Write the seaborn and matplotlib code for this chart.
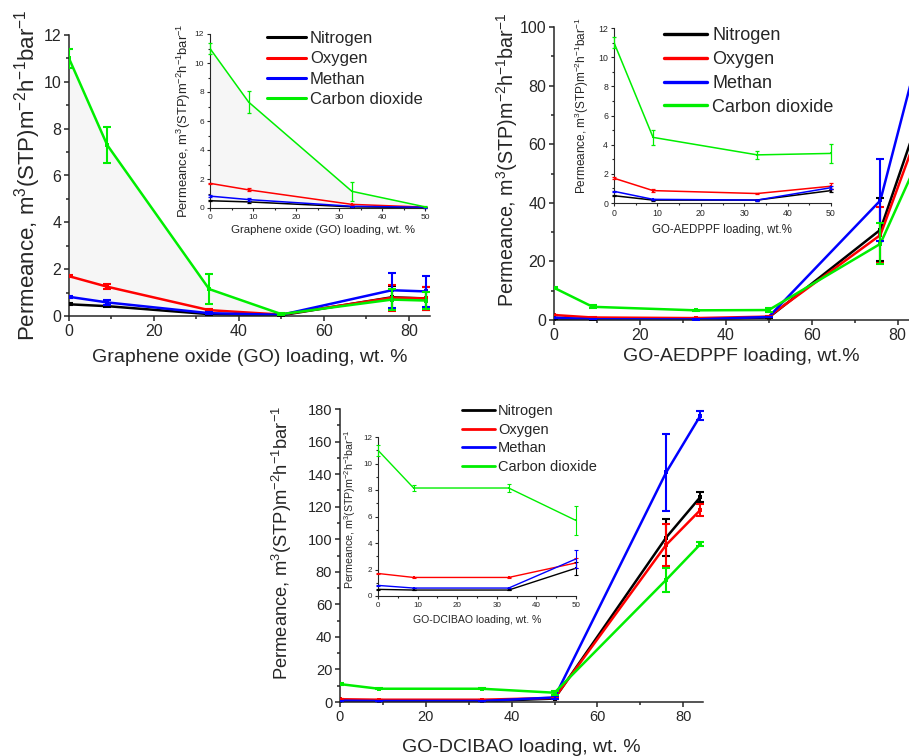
import numpy as np
import pandas as pd
import matplotlib
matplotlib.use("Agg")
import matplotlib.pyplot as plt
from matplotlib.lines import Line2D
from matplotlib.ticker import MultipleLocator
import seaborn as sns

sns.set_style("ticks")
plt.rcParams["font.family"] = ["Liberation Sans", "DejaVu Sans"]
plt.rcParams["mathtext.default"] = "regular"

gases = ["Nitrogen", "Oxygen", "Methan", "Carbon dioxide"]
gas_colors = ["#000000", "#ff0000", "#0000ff", "#00ee00"]
loading = [0, 9, 33, 50, 76, 84]

# Graphene oxide (GO) membranes
go_n2 = [0.50, 0.42, 0.08, 0.03, 0.80, 0.75]
go_o2 = [1.70, 1.25, 0.25, 0.06, 0.78, 0.75]
go_ch4 = [0.82, 0.58, 0.12, 0.05, 1.10, 1.05]
go_co2 = [11.0, 7.30, 1.15, 0.08, 0.70, 0.66]
go_n2_err = [0.05, 0.05, 0.02, 0.01, 0.50, 0.50]
go_o2_err = [0.05, 0.10, 0.05, 0.02, 0.55, 0.50]
go_ch4_err = [0.05, 0.10, 0.03, 0.02, 0.75, 0.65]
go_co2_err = [0.40, 0.75, 0.65, 0.03, 0.45, 0.35]

# GO-AEDPPF membranes
aed_n2 = [0.50, 0.20, 0.20, 0.85, 30.8, 65.0]
aed_o2 = [1.70, 0.85, 0.65, 1.15, 29.0, 61.0]
aed_ch4 = [0.80, 0.25, 0.20, 1.05, 40.8, 86.0]
aed_co2 = [11.0, 4.50, 3.30, 3.40, 26.0, 52.0]
aed_n2_err = [0.05, 0.03, 0.03, 0.10, 10.8, 2.0]
aed_o2_err = [0.05, 0.08, 0.05, 0.20, 9.6, 2.0]
aed_ch4_err = [0.05, 0.05, 0.03, 0.10, 14.0, 3.0]
aed_co2_err = [0.40, 0.50, 0.25, 0.65, 7.0, 2.0]

# GO-DCIBAO membranes
dci_n2 = [0.50, 0.45, 0.45, 2.10, 101.0, 126.0]
dci_o2 = [1.70, 1.40, 1.40, 2.50, 96.5, 118.0]
dci_ch4 = [0.80, 0.60, 0.60, 2.80, 141.0, 176.0]
dci_co2 = [11.0, 8.15, 8.15, 5.70, 75.0, 97.0]
dci_n2_err = [0.05, 0.03, 0.03, 0.50, 11.5, 3.0]
dci_o2_err = [0.05, 0.05, 0.05, 0.40, 13.0, 3.5]
dci_ch4_err = [0.05, 0.03, 0.03, 0.70, 23.5, 2.5]
dci_co2_err = [0.40, 0.25, 0.30, 1.10, 7.5, 1.0]

YLABEL = "Permeance, m$^3$(STP)m$^{-2}$h$^{-1}$bar$^{-1}$"
W, H = 909, 756


def frame(series):
    rows = []
    for gas, vals in zip(gases, series):
        for x, v in zip(loading, vals):
            rows.append({"loading": x, "gas": gas, "permeance": v})
    return pd.DataFrame(rows)


def px_rect(x0, y_top, x1, y_bottom):
    return [x0 / W, 1 - y_bottom / H, (x1 - x0) / W, (y_bottom - y_top) / H]


def draw(fig, rect, series, errors, xlim, ylim, xmaj, ymaj, tick_fs, lw, ms,
         cap, elw, xlabel, xlabel_fs, ylabel_fs, xlab_pos, ylab_pos,
         tick_len, spine_w, upto=None, shade=False):
    ax = fig.add_axes(rect)
    ax.set_facecolor("none")
    df = frame(series)
    if upto is not None:
        df = df[df["loading"] <= upto]
    if shade:
        lo = df[df["gas"] == "Nitrogen"].sort_values("loading")
        hi = df[df["gas"] == "Carbon dioxide"].sort_values("loading")
        sel = (hi["loading"] <= 50).values
        ax.fill_between(hi["loading"].values[sel], lo["permeance"].values[sel],
                        hi["permeance"].values[sel], color="#f6f6f6", lw=0,
                        zorder=0)
    sns.lineplot(data=df, x="loading", y="permeance", hue="gas",
                 hue_order=gases, palette=gas_colors, marker="s",
                 markersize=ms, markeredgewidth=0, linewidth=lw,
                 errorbar=None, legend=False, sort=False, ax=ax)
    for gas, col, vals, err in zip(gases, gas_colors, series, errors):
        xs = np.array(loading)
        v = np.array(vals)
        e = np.array(err)
        if upto is not None:
            m = xs <= upto
            xs, v, e = xs[m], v[m], e[m]
        eb = ax.errorbar(xs, v, yerr=e, fmt="none", ecolor=col, elinewidth=elw,
                         capsize=cap, capthick=elw, zorder=3)
        if upto is not None:
            for art in eb.get_children():
                art.set_clip_on(False)
    ax.set_xlim(*xlim)
    ax.set_ylim(*ylim)
    ax.xaxis.set_major_locator(MultipleLocator(xmaj))
    ax.xaxis.set_minor_locator(MultipleLocator(xmaj / 2))
    ax.yaxis.set_major_locator(MultipleLocator(ymaj))
    ax.yaxis.set_minor_locator(MultipleLocator(ymaj / 2))
    for s in ["top", "right"]:
        ax.spines[s].set_visible(False)
    for s in ["left", "bottom"]:
        ax.spines[s].set_linewidth(spine_w)
    ax.tick_params(which="major", direction="out", length=tick_len,
                   width=spine_w, labelsize=tick_fs, pad=2)
    ax.tick_params(which="minor", direction="out", length=tick_len * 0.6,
                   width=spine_w)
    ax.set_xlabel(xlabel, fontsize=xlabel_fs)
    ax.set_ylabel(YLABEL, fontsize=ylabel_fs)
    ax.xaxis.set_label_coords(*xlab_pos)
    ax.xaxis.label.set_va("center")
    ax.yaxis.set_label_coords(*ylab_pos)
    ax.yaxis.label.set_va("center")
    return ax


def legend(ax, x, y_top, fs, hl, pad, spacing, lw):
    handles = [Line2D([], [], color=c, lw=lw) for c in gas_colors]
    ax.legend(handles, gases, loc="upper left",
              bbox_to_anchor=(x / W, 1 - y_top / H),
              bbox_transform=ax.figure.transFigure, frameon=False,
              fontsize=fs, handlelength=hl, handletextpad=pad,
              labelspacing=spacing, borderpad=0, borderaxespad=0)


fig = plt.figure(figsize=(W / 100, H / 100), dpi=100)

go = [go_n2, go_o2, go_ch4, go_co2]
go_e = [go_n2_err, go_o2_err, go_ch4_err, go_co2_err]
aed = [aed_n2, aed_o2, aed_ch4, aed_co2]
aed_e = [aed_n2_err, aed_o2_err, aed_ch4_err, aed_co2_err]
dci = [dci_n2, dci_o2, dci_ch4, dci_co2]
dci_e = [dci_n2_err, dci_o2_err, dci_ch4_err, dci_co2_err]

# Graphene oxide panel
a1 = draw(fig, px_rect(69, 35, 430, 316), go, go_e, (0, 85), (0, 12), 20, 2,
          11.5, 1.8, 3, 3, 1.5, "Graphene oxide (GO) loading, wt. %", 14, 16,
          (0.50, -0.146), (-0.116, 0.502), 3.6, 1.1, shade=True)
i1 = draw(fig, px_rect(210, 34, 425, 208), go, go_e, (0, 50), (0, 12), 10, 2,
          6.0, 1.1, 2, 1.6, 0.9, "Graphene oxide (GO) loading, wt. %", 8.2, 9.4,
          (0.526, -0.126), (-0.122, 0.50), 2.2, 0.8, upto=50, shade=True)
legend(i1, 267, 31, 12, 2.33, 0.24, 0.32, 2.2)

# GO-AEDPPF panel
a2 = draw(fig, px_rect(554, 27, 919, 320), aed, aed_e, (0, 85), (0, 100), 20, 20,
          11.5, 1.8, 3, 3, 1.5, "GO-AEDPPF loading, wt.%", 14, 14.2,
          (0.512, -0.126), (-0.129, 0.546), 3.6, 1.1)
i2 = draw(fig, px_rect(614, 28, 831, 203), aed, aed_e, (0, 50), (0, 12), 10, 2,
          6.3, 1.1, 2, 1.6, 0.9, "GO-AEDPPF loading, wt.%", 8.3, 8.5,
          (0.498, -0.154), (-0.148, 0.554), 2.2, 0.8, upto=50)
legend(i2, 664, 27.5, 13, 2.38, 0.28, 0.37, 2.4)

# GO-DCIBAO panel
a3 = draw(fig, px_rect(340, 409, 703, 702), dci, dci_e, (0, 84.6), (0, 180), 20, 20,
          10.5, 1.8, 3, 3, 1.5, "GO-DCIBAO loading, wt. %", 14, 13.2,
          (0.50, -0.154), (-0.16, 0.544), 3.6, 1.1)
i3 = draw(fig, px_rect(378, 437, 576, 596), dci, dci_e, (0, 50), (0, 12), 10, 2,
          5.8, 1.0, 1.8, 1.5, 0.8, "GO-DCIBAO loading, wt. %", 7.6, 7.7,
          (0.503, -0.151), (-0.14, 0.547), 2.0, 0.8, upto=50)
legend(i3, 462, 404, 10.5, 2.26, 0.2, 0.32, 2.0)

fig.savefig("out.png", dpi=100)
